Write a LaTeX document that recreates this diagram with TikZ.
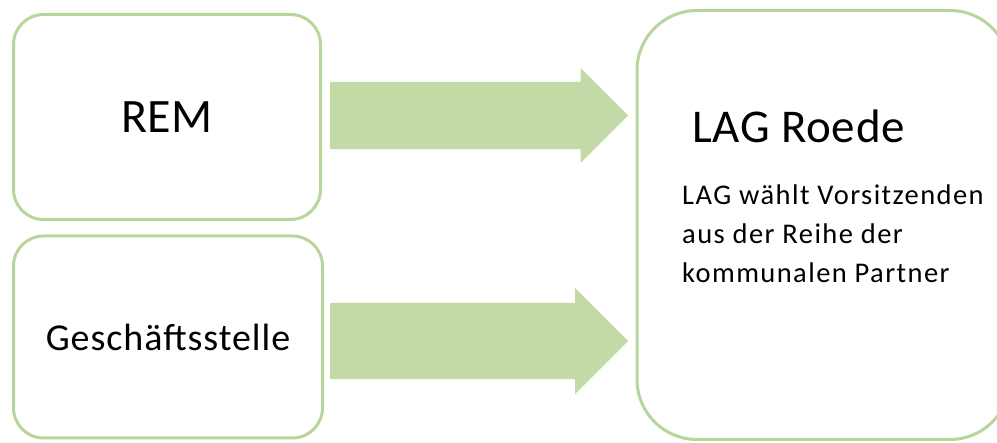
\documentclass[tikz,border=0pt]{standalone}
\usepackage{fontspec}
\setmainfont{Carlito}
\usepackage{tikz}
\usetikzlibrary{positioning}
\usetikzlibrary{shapes.arrows}
\definecolor{lagline}{RGB}{184,214,156}
\definecolor{lagfill}{RGB}{195,218,166}

\begin{document}
\begin{tikzpicture}[x=1pt,y=-1pt,
  box/.style={draw=lagline,line width=3pt,fill=white,rounded corners=30pt,inner sep=0pt},
  flow/.style={single arrow,draw=none,fill=lagfill,inner xsep=0pt,minimum height=298pt,single arrow head indent=0pt}]

\useasboundingbox (0,0) rectangle (997,443);
\clip (0,0) rectangle (997,443);

%LEFT
\node[box,minimum width=307pt,minimum height=205pt,font=\fontsize{48}{58}\selectfont](rem)at(167,117){REM};
\node[box,minimum width=309pt,minimum height=202pt,font={\fontsize{38}{46}\selectfont\addfontfeature{LetterSpace=2.5}}](gs)at(168,337){Geschäftsstelle};

%RIGHT
\node[box,rounded corners=60pt,minimum width=373pt,minimum height=429pt](lag)at(823.5,225){};
\node[anchor=base west,inner sep=0pt,font={\fontsize{47}{56}\selectfont\addfontfeature{LetterSpace=1.5}}](lag-label)at(692,143){LAG Roede};
\node[anchor=north west,inner sep=0pt,align=left,font={\fontsize{28.5}{39}\selectfont\addfontfeature{LetterSpace=5}}](lag-text)at(682,185){LAG wählt Vorsitzenden\\aus der Reihe der\\kommunalen Partner};

%ARROWS
\node[flow,inner ysep=33.5pt,single arrow head extend=14pt,right=8pt of rem,yshift=1.5pt](rem-arrow){};
\node[flow,inner ysep=38pt,single arrow head extend=15pt,right=6pt of gs,yshift=-4pt](gs-arrow){};

\end{tikzpicture}
\end{document}
